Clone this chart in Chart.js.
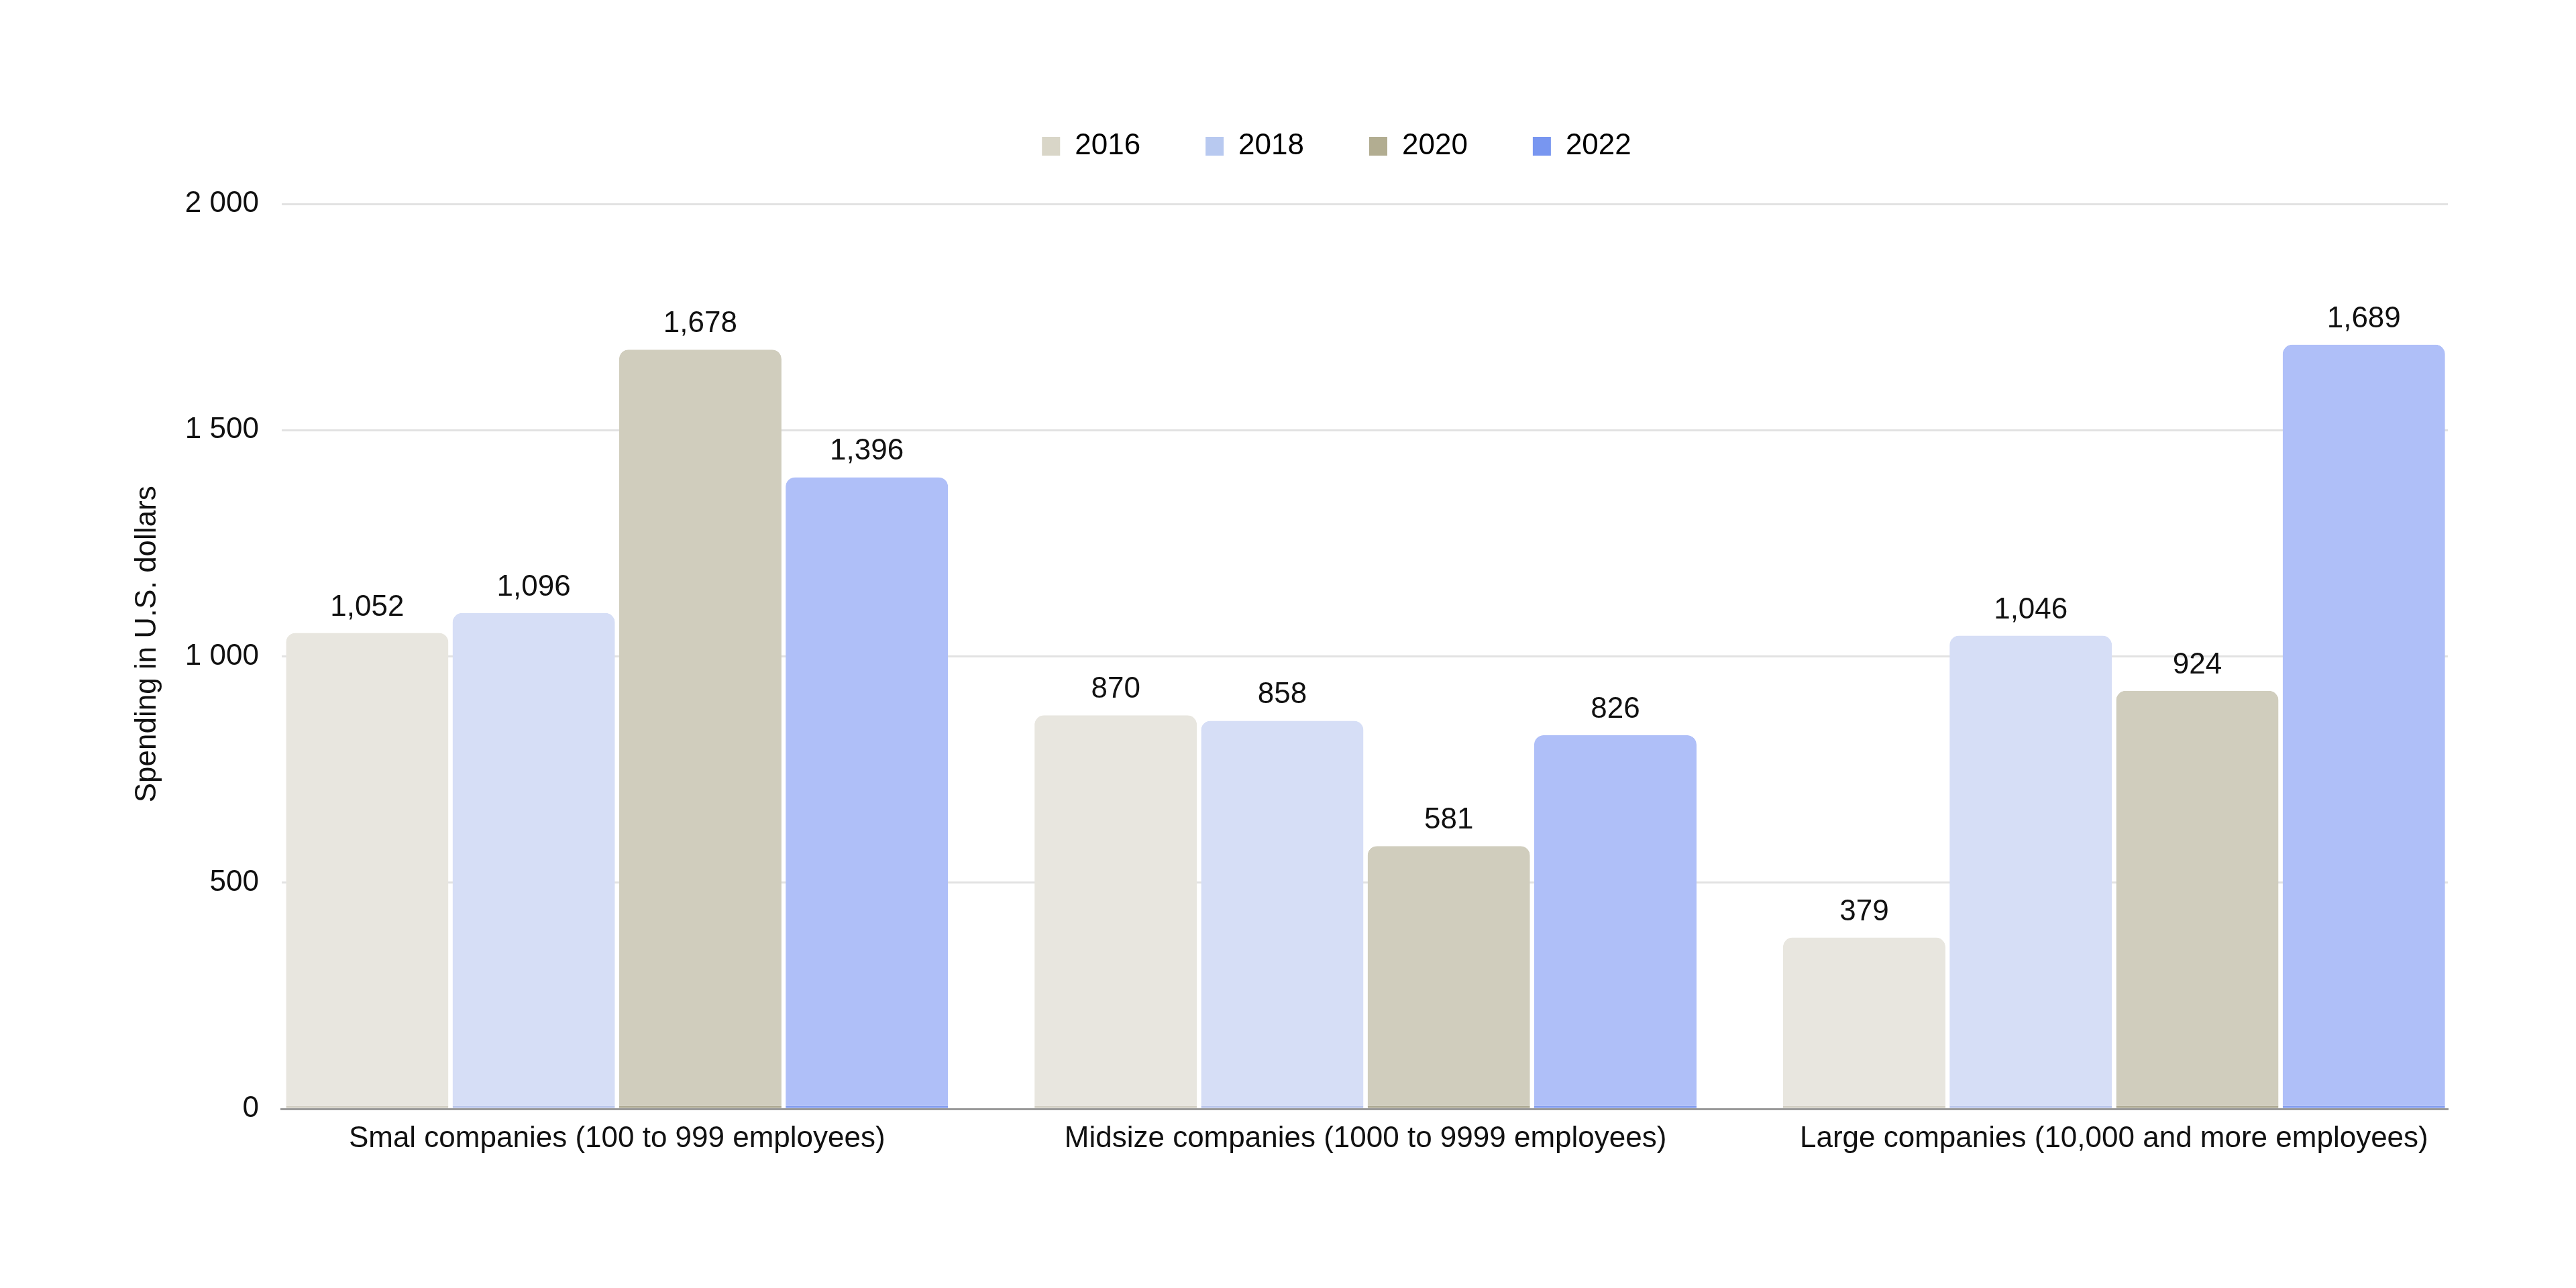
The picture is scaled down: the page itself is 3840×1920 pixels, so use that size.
<!DOCTYPE html>
<html>
<head>
<meta charset="utf-8">
<script src="https://cdn.jsdelivr.net/npm/chart.js@4.4.1/dist/chart.umd.min.js"></script>
<style>
  html, body { margin: 0; padding: 0; background: #fff; }
  #wrap { width: 3840px; height: 1920px; }
</style>
</head>
<body>
<div id="wrap"><canvas id="myChart_Spending" width="3840" height="1920"></canvas></div>
<script>
// categories and values
const categories = [
  "Smal companies (100 to 999 employees)",
  "Midsize companies (1000 to 9999 employees)",
  "Large companies (10,000 and more employees)",
];
const years = ["2016", "2018", "2020", "2022"];
const values2016 = [1052, 870, 379];
const values2018 = [1096, 858, 1046];
const values2020 = [1678, 581, 924];
const values2022 = [1396, 826, 1689];
const yTicks = [0, 500, 1000, 1500, 2000];

const barColors = ["#e8e6df", "#d6def6", "#d0cdbd", "#afbff8"];
const baseColors = ["#cfccc0", "#b6c3ea", "#aaa68f", "#7f99ee"];
const legendColors = ["#d9d6c8", "#b8c9f0", "#b2ad91", "#7896f0"];

const FONT = '"Liberation Sans", Arial, sans-serif';

// x domain: groups touch the plot edges, gaps only between groups
const xStart = -0.448;
const xRange = 2.894;

// value labels above each bar
const barValueLabels = {
  id: "barValueLabels",
  afterDatasetsDraw(chart) {
    const ctx = chart.ctx;
    ctx.save();
    ctx.font = "44px " + FONT;
    ctx.fillStyle = "#111";
    ctx.textAlign = "center";
    ctx.textBaseline = "alphabetic";
    chart.data.datasets.forEach((ds, i) => {
      chart.getDatasetMeta(i).data.forEach((bar, j) => {
        ctx.fillText(ds.data[j].toLocaleString("en-US"), bar.x, bar.y - 26);
      });
    });
    ctx.restore();
  },
};

// keep the legend items wide apart but the block not too tall
const legendTweak = {
  id: "legendTweak",
  beforeLayout(chart) {
    const lg = chart.legend;
    if (lg && !lg._patched) {
      const fit = lg.fit;
      lg.fit = function () {
        fit.call(this);
        this.height = 205;
      };
      lg._patched = true;
    }
  },
  afterLayout(chart) {
    chart.legend.left += 78;
    chart.legend.right += 78;
  },
};

const allValues = [values2016, values2018, values2020, values2022];

window.addEventListener("load", function () {
  const ctx = document.getElementById("myChart_Spending").getContext("2d");
  new Chart(ctx, {
    type: "bar",
    data: {
      labels: categories,
      datasets: years.map((y, i) => ({
        label: y,
        data: allValues[i],
        backgroundColor: barColors[i],
        borderColor: baseColors[i],
        borderWidth: { top: 0, left: 0, right: 0, bottom: 3 },
        borderSkipped: false,
        borderRadius: { topLeft: 14, topRight: 14, bottomLeft: 0, bottomRight: 0 },
        categoryPercentage: 0.89,
        barPercentage: 0.975,
      })),
    },
    options: {
      responsive: false,
      animation: false,
      devicePixelRatio: 1,
      layout: { padding: { top: 99, left: 180, right: 191, bottom: 178 } },
      plugins: {
        tooltip: { enabled: false },
        legend: {
          position: "top",
          labels: {
            boxWidth: 27,
            boxHeight: 28,
            padding: 97,
            color: "#111",
            font: { family: FONT, size: 44 },
            generateLabels(chart) {
              return chart.data.datasets.map((ds, i) => ({
                text: ds.label,
                fillStyle: legendColors[i],
                strokeStyle: legendColors[i],
                lineWidth: 0,
                datasetIndex: i,
                hidden: false,
              }));
            },
          },
        },
      },
      scales: {
        x: {
          afterBuildTicks(axis) {
            axis._startValue = xStart;
            axis._valueRange = xRange;
          },
          grid: { display: false, drawTicks: false },
          border: { display: true, color: "#999", width: 3 },
          ticks: {
            color: "#111",
            padding: 18,
            font: { family: FONT, size: 44 },
          },
        },
        y: {
          min: 0,
          max: 2000,
          afterBuildTicks(axis) {
            axis.ticks = yTicks.map((v) => ({ value: v }));
          },
          grid: { color: "#e2e2e2", lineWidth: 3, drawTicks: false },
          border: { display: false },
          ticks: {
            color: "#111",
            padding: 34,
            font: { family: FONT, size: 44 },
            callback: (v) => String(v).replace(/\B(?=(\d{3})+(?!\d))/g, " "),
          },
          title: {
            display: true,
            text: "   Spending in U.S. dollars",
            color: "#111",
            font: { family: FONT, size: 44 },
            padding: { top: 13, bottom: -4 },
          },
        },
      },
    },
    plugins: [barValueLabels, legendTweak],
  });
});
</script>
</body>
</html>
